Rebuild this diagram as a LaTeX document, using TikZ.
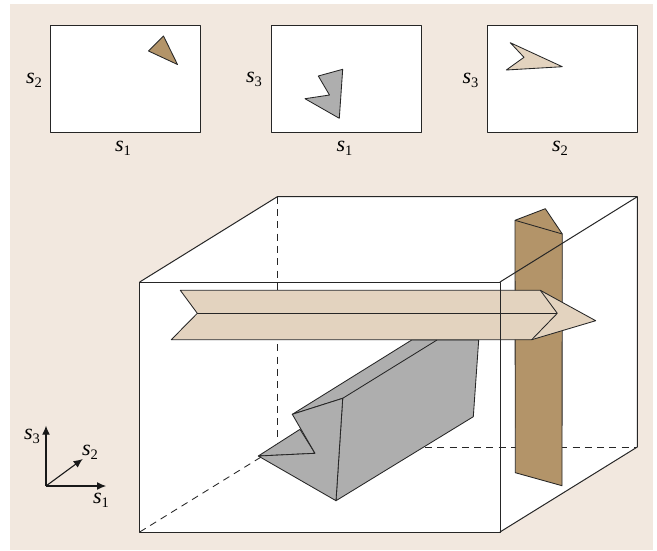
\documentclass[tikz,border=0pt]{standalone}
\usepackage{fontspec}
\setmainfont{Liberation Serif}
\usepackage{xcolor}
\usetikzlibrary{arrows.meta,calc,positioning}

\definecolor{paper}{HTML}{F2E8DF}
\definecolor{brownface}{HTML}{B39469}
\definecolor{beigeface}{HTML}{E3D3BF}
\definecolor{grayface}{HTML}{AEAEAE}

\newcommand{\axlabel}[1]{\textit{s}\raisebox{-0.4ex}{\fontsize{14.5}{16}\selectfont #1}}

\tikzset{
  edge/.style={draw=black!85, line width=0.85pt, line join=round},
  hidden/.style={draw=black!85, line width=0.85pt, dash pattern=on 7pt off 5.3pt},
  axlab/.style={font=\fontsize{22}{24}\selectfont, inner sep=0pt},
  axarrow/.style={draw=black!90, line width=1.1pt, -{Latex[length=9pt,width=8pt]}},
}

\begin{document}
\begin{tikzpicture}[x=1pt, y=-1pt]
\useasboundingbox (0,0) rectangle (657,550);
\fill[paper] (10,4) rectangle (653,549.5);

% --- Proiezioni in alto ---
\foreach \i/\xa/\xb in {1/50.5/200.5, 2/271.5/421.7, 3/487/637.3}{
  \draw[edge, fill=white, line width=1pt] (\xa,25) rectangle (\xb,132.5);
}
\filldraw[edge, fill=brownface] (163.5,36) -- (148.5,51) -- (177.5,64.5) -- cycle;
\filldraw[edge, fill=grayface] (318.3,76) -- (342.7,69.3) -- (339.3,118.3) -- (305,98.7) -- (329.5,95) -- cycle;
\filldraw[edge, fill=beigeface] (510.3,42.7) -- (562.3,66.7) -- (506.3,70) -- (524,57.3) -- cycle;

\foreach \n/\x/\y/\t in {a/34/80/2, b/123/148/1, c/254/79.5/3, d/344.5/148/1, e/470.5/80/3, f/560/148/2}{
  \node[axlab] (lab\n) at (\x,\y) {\axlabel{\t}};
}

% --- Cubo ---
\fill[white] (139.7,282) -- (277.3,196.7) -- (637.3,196.7) -- (637.3,447) -- (500,532) -- (139.7,532) -- cycle;
\draw[hidden] (277.3,196.7) -- (277.3,447);
\draw[hidden] (277.3,447) -- (637.3,447);
\draw[hidden] (139.7,532) -- (277.3,447);
\draw[edge, line width=1pt] (139.7,282) -- (277.3,196.7) -- (637.3,196.7) -- (637.3,447) -- (500,532);

% --- Prisma grigio ---
\filldraw[edge, fill=grayface] (292.3,414.3) -- (411.7,340) -- (478.7,340) -- (473.3,416.7) -- (336,500.7) -- (342.7,398.3) -- cycle;
\filldraw[edge, fill=grayface] (258.3,456) -- (300,429.3) -- (315,453.3) -- cycle;
\filldraw[edge, fill=grayface] (258.3,456) -- (315,453.3) -- (292.3,414.3) -- (342.7,398.3) -- (336,500.7) -- cycle;
\draw[edge] (342.7,398.3) -- (437,340);

% --- Prisma marrone ---
\filldraw[edge, fill=brownface] (515,220.3) -- (545.3,208.7) -- (562.3,234) -- (562,485.7) -- (515.3,472.7) -- cycle;
\draw[edge] (515,220.3) -- (562.3,234);

% --- Prisma beige ---
\filldraw[edge, fill=beigeface] (180.3,290.3) -- (540.3,290.3) -- (595.7,320.7) -- (531.7,339.7) -- (171.3,339.7) -- (197.3,313.3) -- cycle;
\draw[edge] (197.3,313.3) -- (557.3,313.3);
\draw[edge] (540.3,290.3) -- (557.3,313.3) -- (531.7,339.7);

% --- Spigoli anteriori ---
\draw[edge, line width=1pt] (139.7,282) rectangle (500,532);
\draw[edge, line width=1pt] (500,282) -- (637.3,196.7);

% --- Assi ---
\coordinate (origin) at (46,486);
\coordinate (tipa) at (106,486);
\coordinate (tipb) at (82.7,459);
\coordinate (tipc) at (46,425.7);
\foreach \t in {tipa,tipb,tipc}{
  \draw[axarrow] (origin) -- (\t);
}
\node[axlab] (axisa) at (101,500) {\axlabel{1}};
\node[axlab] (axisb) at (90,452) {\axlabel{2}};
\node[axlab] (axisc) at (32,436) {\axlabel{3}};

\end{tikzpicture}
\end{document}
